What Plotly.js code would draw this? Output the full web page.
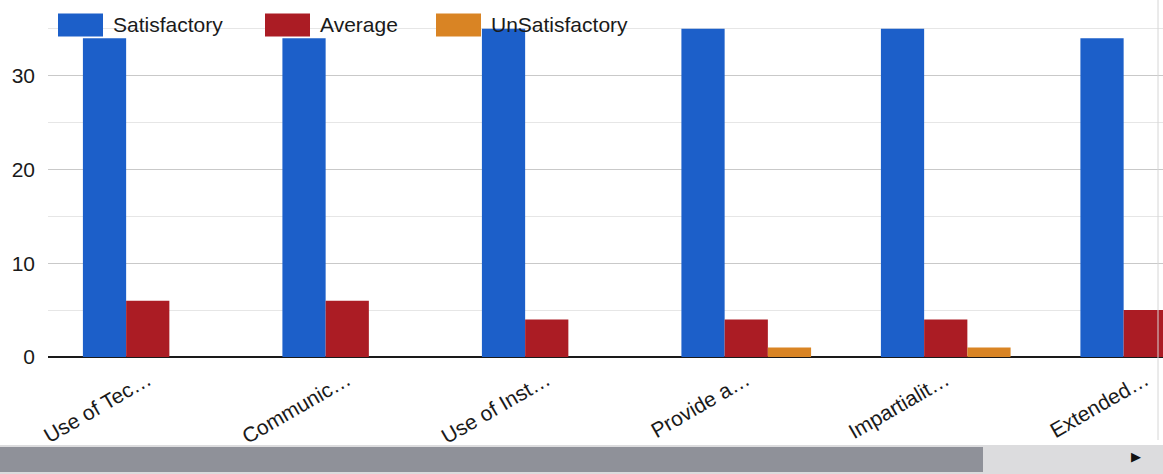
<!DOCTYPE html>
<html>
<head>
<meta charset="utf-8">
<script src="https://cdn.plot.ly/plotly-3.0.1.min.js"></script>
<style>html,body{margin:0;padding:0;background:#fff;}#chart{width:1163px;height:474px;}</style>
</head>
<body>
<div id="chart"></div>
<script>
// ---- data ----
const categories = ["Use of Tec…", "Communic…", "Use of Inst…", "Provide a…", "Impartialit…", "Extended…"];
const seriesNames = ["Satisfactory", "Average", "UnSatisfactory"];
const satisfactory = [34, 34, 35, 35, 35, 34];
const average = [6, 6, 4, 4, 4, 5];
const unsatisfactory = [0, 0, 0, 1, 1, 1];
const yTickVals = [0, 10, 20, 30];
const colors = ["#1c5fc9", "#ab1c24", "#d98424"];

// ---- layout geometry ----
const W = 1163, H = 474;
const M = {l: 48, r: 0, t: 26, b: 117};
const PW = W - M.l - M.r, PH = H - M.t - M.b;
const px2x = px => (px - M.l) / PW;
const py2y = py => (H - M.b - py) / PH;

const idx = categories.map((c, i) => i);
const seriesVals = [satisfactory, average, unsatisfactory];
const traces = seriesNames.map((name, k) => ({
  type: "bar",
  name: name,
  x: idx,
  y: seriesVals[k],
  marker: {color: colors[k], line: {width: 0}},
  hoverinfo: "x+y+name"
}));

const shapes = [];
const annotations = [];
// custom legend
const legendBoxes = [[58, 103], [265, 310], [436, 481]];
const legendCenterY = 25;
seriesNames.forEach((name, k) => {
  shapes.push({type: "rect", xref: "paper", yref: "paper",
    x0: px2x(legendBoxes[k][0]), x1: px2x(legendBoxes[k][1]),
    y0: py2y(legendCenterY + 11.5), y1: py2y(legendCenterY - 11.5),
    fillcolor: colors[k], line: {width: 0}});
  annotations.push({xref: "paper", yref: "paper", x: px2x(legendBoxes[k][1] + 8), y: py2y(legendCenterY),
    xanchor: "left", yanchor: "middle", showarrow: false, text: name,
    font: {family: "Liberation Sans, Arial, sans-serif", size: 21, color: "#1a1a1a"}});
});
// scrollbar
shapes.push({type: "rect", xref: "paper", yref: "paper", x0: px2x(0), x1: px2x(1163), y0: py2y(474), y1: py2y(445),
  fillcolor: "#dcdcde", line: {width: 0}, layer: "below"});
shapes.push({type: "rect", xref: "paper", yref: "paper", x0: px2x(0), x1: px2x(983), y0: py2y(472), y1: py2y(447),
  fillcolor: "#8f9199", line: {width: 0}});
annotations.push({xref: "paper", yref: "paper", x: px2x(1136), y: py2y(456), xanchor: "center", yanchor: "middle",
  showarrow: false, text: "▶", font: {size: 13, color: "#111"}});
// right container border
shapes.push({type: "line", xref: "paper", yref: "paper", x0: px2x(1158), x1: px2x(1158), y0: py2y(440), y1: py2y(0),
  line: {color: "#d6d6d6", width: 1}});

const layout = {
  width: W, height: H,
  margin: M,
  paper_bgcolor: "#ffffff",
  plot_bgcolor: "#ffffff",
  showlegend: false,
  barmode: "group",
  bargap: 0.35,
  bargroupgap: 0,
  font: {family: "Liberation Sans, Arial, sans-serif", size: 21, color: "#1a1a1a"},
  xaxis: {
    range: [-0.5, -0.5 + PW / 199.5],
    tickvals: idx,
    ticktext: categories,
    tickangle: -30,
    showgrid: false,
    zeroline: false,
    showline: false,
    ticks: "",
    ticklabelstandoff: 6,
    tickfont: {size: 21, color: "#1a1a1a"},
    fixedrange: true
  },
  yaxis: {
    range: [0, 35.3],
    tickvals: yTickVals,
    showgrid: true,
    gridcolor: "#c9c9c9",
    gridwidth: 1,
    minor: {dtick: 5, tick0: 0, showgrid: true, gridcolor: "#e6e6e6", gridwidth: 1},
    zeroline: true,
    zerolinecolor: "#1a1a1a",
    zerolinewidth: 2.5,
    showline: false,
    ticks: "",
    ticklabelstandoff: 12,
    tickfont: {size: 21, color: "#1a1a1a"},
    fixedrange: true
  },
  shapes: shapes,
  annotations: annotations
};

Plotly.newPlot("chart", traces, layout, {displayModeBar: false, staticPlot: true});
</script>
</body>
</html>
